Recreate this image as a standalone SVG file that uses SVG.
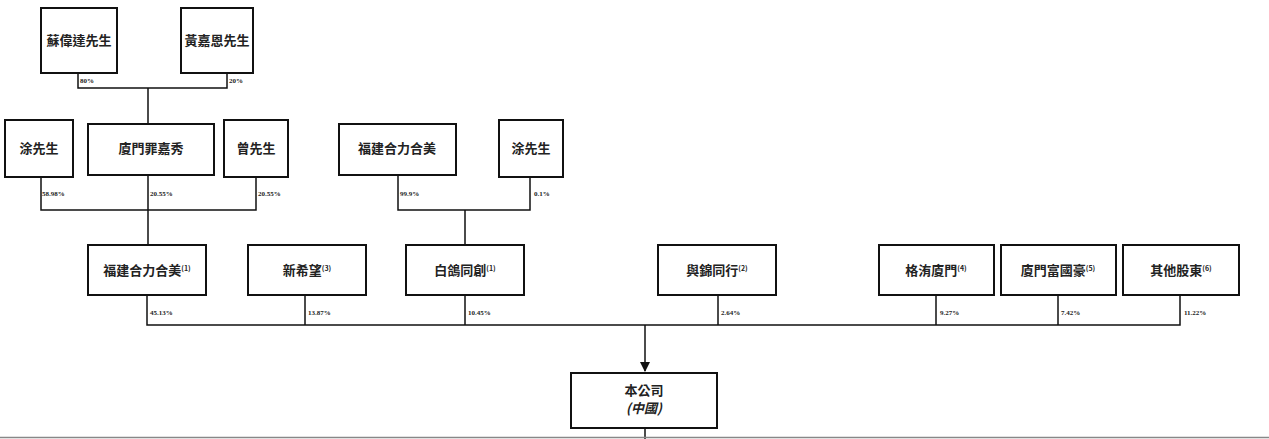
<svg xmlns="http://www.w3.org/2000/svg" width="1269" height="439" viewBox="0 0 1269 439">
<style>
.b{fill:#fff;stroke:#111;stroke-width:2}
.t{font-family:"Noto Sans CJK TC","Liberation Serif",serif;font-size:13px;font-weight:bold;fill:#222;text-anchor:middle}
.s{font-size:7px}
.p{font-family:"Liberation Serif",serif;font-size:7px;font-weight:bold;fill:#222}
.c{fill:none;stroke:#111;stroke-width:1.5}
</style>
<defs><marker id="a" viewBox="0 0 10 10" refX="9" refY="5" markerWidth="7" markerHeight="7" orient="auto"><path d="M0,0L10,5L0,10z" fill="#111"/></marker></defs>
<rect width="1269" height="439" fill="#fff"/>
<g id="connectors">
<path class="c" d="M78,73V88H227V73M148,88V124"/>
<path class="c" d="M41,177V210H256V177M148,175V245"/>
<path class="c" d="M398,175V210H530V177M465,210V245"/>
<path class="c" d="M147,295V325H1180V295M305,295V325M465,295V325M718,295V325M936,295V325M1058,295V325"/>
<path class="c" d="M645,325V371" marker-end="url(#a)"/>
<path class="c" d="M645,428V439"/>
<line x1="0" y1="437.5" x2="1269" y2="437.5" stroke="#888" stroke-width="1.5"/>
</g>
<g class="p">
<text x="80" y="83">80%</text><text x="229" y="83">20%</text>
<text x="42" y="196">58.98%</text><text x="150" y="196">20.55%</text><text x="258" y="196">20.55%</text>
<text x="400" y="196">99.9%</text><text x="534" y="196">0.1%</text>
<text x="150" y="315">45.13%</text><text x="308" y="315">13.87%</text><text x="468" y="315">10.45%</text><text x="721" y="315">2.64%</text><text x="940" y="315">9.27%</text><text x="1061" y="315">7.42%</text><text x="1184" y="315">11.22%</text>
</g>
<g id="n1"><rect class="b" x="41" y="8" width="76" height="65"/><text class="t" x="79" y="45">蘇偉達先生</text></g>
<g id="n2"><rect class="b" x="181" y="8" width="72" height="65"/><text class="t" x="217" y="45">黃嘉恩先生</text></g>
<g id="n3"><rect class="b" x="5" y="120" width="68" height="57"/><text class="t" x="39" y="153">涂先生</text></g>
<g id="n4"><rect class="b" x="88" y="124" width="126" height="51"/><text class="t" x="151" y="153">廈門罪嘉秀</text></g>
<g id="n5"><rect class="b" x="224" y="120" width="64" height="57"/><text class="t" x="256" y="153">曾先生</text></g>
<g id="n6"><rect class="b" x="339" y="124" width="117" height="51"/><text class="t" x="397" y="153">福建合力合美</text></g>
<g id="n7"><rect class="b" x="499" y="120" width="64" height="57"/><text class="t" x="531" y="153">涂先生</text></g>
<g id="n8"><rect class="b" x="88" y="245" width="118" height="50"/><text class="t" x="147" y="275">福建合力合美<tspan class="s" dy="-4">(1)</tspan></text></g>
<g id="n9"><rect class="b" x="248" y="245" width="118" height="50"/><text class="t" x="307" y="275">新希望<tspan class="s" dy="-4">(3)</tspan></text></g>
<g id="n10"><rect class="b" x="406" y="245" width="118" height="50"/><text class="t" x="465" y="275">白鴿同創<tspan class="s" dy="-4">(1)</tspan></text></g>
<g id="n11"><rect class="b" x="658" y="245" width="118" height="50"/><text class="t" x="717" y="275">與錦同行<tspan class="s" dy="-4">(2)</tspan></text></g>
<g id="n12"><rect class="b" x="879" y="245" width="115" height="50"/><text class="t" x="936" y="275">格洧廈門<tspan class="s" dy="-4">(4)</tspan></text></g>
<g id="n13"><rect class="b" x="1001" y="245" width="115" height="50"/><text class="t" x="1058" y="275">廈門富國豪<tspan class="s" dy="-4">(5)</tspan></text></g>
<g id="n14"><rect class="b" x="1123" y="245" width="116" height="50"/><text class="t" x="1181" y="275">其他股東<tspan class="s" dy="-4">(6)</tspan></text></g>
<g id="n15"><rect class="b" x="571" y="373" width="146" height="55"/><text class="t" x="644" y="395">本公司</text><text class="t" x="644" y="413" font-style="italic">(中國)</text></g>
</svg>
